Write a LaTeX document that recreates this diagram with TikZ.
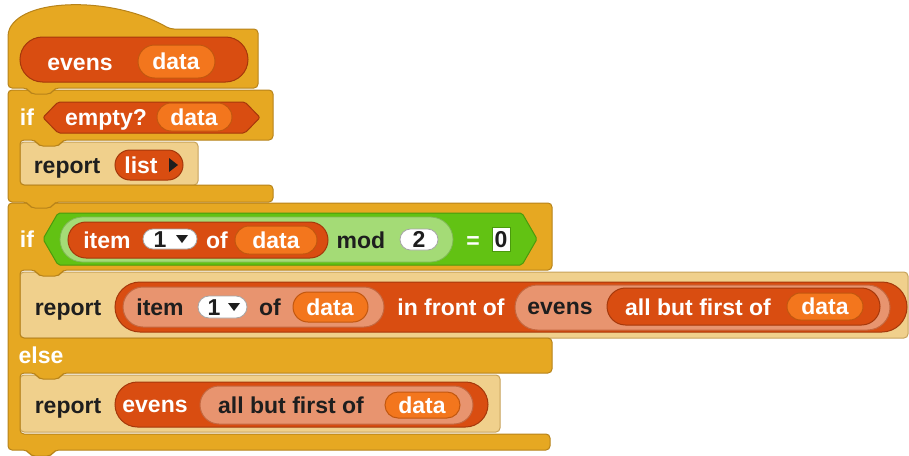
\documentclass[tikz,border=0pt]{standalone}
\usepackage{fontspec}
\setmainfont{Liberation Sans}
\definecolor{gold}{HTML}{E6A822}
\definecolor{golddark}{HTML}{B7831A}
\definecolor{tan}{HTML}{F0D08C}
\definecolor{tandark}{HTML}{C7A25A}
\definecolor{lists}{HTML}{D94D11}
\definecolor{listsdark}{HTML}{A5380B}
\definecolor{salmon}{HTML}{E8946F}
\definecolor{salmondark}{HTML}{C4673F}
\definecolor{var}{HTML}{F3761D}
\definecolor{vardark}{HTML}{C2570F}
\definecolor{ops}{HTML}{62C213}
\definecolor{opsdark}{HTML}{4A9A0C}
\definecolor{opslight}{HTML}{A4DB76}
\definecolor{textdark}{HTML}{1E1E1E}
\begin{document}
\begin{tikzpicture}[x=1pt,y=-1pt,
  lbl/.style={anchor=base,inner sep=0pt,font=\fontsize{23}{26}\selectfont\bfseries},
  wt/.style={lbl,text=white},
  dk/.style={lbl,text=textdark},
  goldblk/.style={fill=gold,draw=golddark,line width=1pt,rounded corners=4pt},
  tanblk/.style={fill=tan,draw=tandark,line width=1pt,rounded corners=4pt},
  listpill/.style={fill=lists,draw=listsdark,line width=1pt},
  salpill/.style={fill=salmon,draw=salmondark,line width=1pt},
  varpill/.style={fill=var,draw=vardark,line width=1pt},
  slotpill/.style={fill=white,draw=gray!70,line width=0.8pt},
  tri/.style={fill=textdark}]
\useasboundingbox (0,0) rectangle (909,455);

% ---------- if-else : slot 1 report ----------
\draw[tanblk] (20,272) rectangle (908,338);
\node[dk] (r2t) at (68,315) {report};
\draw[listpill,rounded corners=25pt] (115,282) rectangle (907,332);
\draw[salpill,rounded corners=20pt] (123,287) rectangle (384,327);
\node[dk] (r2item) at (160,315) {item};
\draw[slotpill,rounded corners=11pt] (198,296) rectangle (247,318);
\node[dk] (r2one) at (214,315) {1};
\fill[tri] (228,303) -- (240,303) -- (234,311) -- cycle;
\node[dk] (r2of) at (270,315) {of};
\draw[varpill,rounded corners=15pt] (293,292) rectangle (368,322);
\node[wt] (r2data) at (330,315) {data};
\node[wt] (r2ifo) at (451,315) {in front of};
\draw[salpill,rounded corners=22.5pt] (515,285) rectangle (890,330);
\node[dk] (r2evens) at (560,314) {evens};
\draw[listpill,rounded corners=18.5pt] (607,288) rectangle (880,325);
\node[wt] (r2abf) at (698,315) {all but first of};
\draw[varpill,rounded corners=13.5pt] (787,293) rectangle (863,320);
\node[wt] (r2data2) at (825,314) {data};

% ---------- if-else : slot 2 report ----------
\draw[tanblk] (20,375) rectangle (500,432);
\node[dk] (r3t) at (68,413) {report};
\draw[listpill,rounded corners=22.5pt] (115,382) rectangle (488,427);
\node[wt] (r3evens) at (155,412) {evens};
\draw[salpill,rounded corners=19pt] (200,386) rectangle (473,424);
\node[dk] (r3abf) at (291,413) {all but first of};
\draw[varpill,rounded corners=13pt] (385,392) rectangle (460,418);
\node[wt] (r3data) at (422,413) {data};

% ---------- if-else C block ----------
\draw[goldblk] (8,203) -- (552,203) -- (552,270) -- (63,270) -- (59,276) -- (39,276) -- (35,270)
  -- (20,270) -- (20,338) -- (552,338) -- (552,373) -- (63,373) -- (59,379) -- (39,379) -- (35,373)
  -- (20,373) -- (20,434) -- (550,434) -- (550,450) -- (55,450) -- (51,456) -- (31,456) -- (27,450)
  -- (8,450) -- cycle;
\node[wt] (ifelse) at (27,247) {if};
\node[wt] (else) at (41,363) {else};
\draw[fill=ops,draw=opsdark,line width=1pt,rounded corners=2pt]
  (43,239) -- (58,213) -- (522,213) -- (537,239) -- (522,265) -- (58,265) -- cycle;
\draw[fill=opslight,draw=opsdark!70,line width=0.8pt,rounded corners=22.5pt] (60,217) rectangle (453,262);
\draw[listpill,rounded corners=18pt] (68,222) rectangle (328,258);
\node[wt] (gitem) at (107,248) {item};
\draw[slotpill,rounded corners=10pt] (143,229) rectangle (197,249);
\node[dk] (gone) at (160,247) {1};
\fill[tri] (176,235) -- (188,235) -- (182,243) -- cycle;
\node[wt] (gof) at (217,248) {of};
\draw[varpill,rounded corners=14pt] (235,226) rectangle (317,254);
\node[wt] (gdata) at (276,248) {data};
\node[dk] (gmod) at (361,248) {mod};
\draw[slotpill,rounded corners=10.5pt] (400,229) rectangle (438,250);
\node[dk] (gtwo) at (419,247) {2};
\node[wt] (geq) at (473,248) {=};
\draw[fill=white,draw=opsdark,line width=0.8pt] (492,227) rectangle (510,251);
\node[dk] (gzero) at (501,247) {0};

% ---------- if block: report ----------
\draw[tanblk] (20,142) rectangle (198,185);
\node[dk] (r1t) at (67,173) {report};
\draw[listpill,rounded corners=15pt] (115,150) rectangle (183,180);
\node[wt] (r1list) at (141,173) {list};
\fill[tri] (169,158) -- (178,165) -- (169,172) -- cycle;

% ---------- if block C ----------
\draw[goldblk] (8,90) -- (273,90) -- (273,140) -- (63,140) -- (59,146) -- (39,146) -- (35,140)
  -- (20,140) -- (20,185) -- (273,185) -- (273,202) -- (55,202) -- (51,208) -- (31,208) -- (27,202)
  -- (8,202) -- cycle;
\node[wt] (if1) at (27,125) {if};
\draw[listpill,rounded corners=2pt]
  (43,117.5) -- (58,102) -- (245,102) -- (260,117.5) -- (245,133) -- (58,133) -- cycle;
\node[wt] (empty) at (106,125) {empty?};
\draw[varpill,rounded corners=14pt] (157,103) rectangle (232,131);
\node[wt] (edata) at (194,125) {data};

% ---------- hat block ----------
\draw[goldblk] (8,88) -- (8,32) .. controls (25,-3) and (115,-3) .. (170,29) -- (258,29) -- (258,88)
  -- (55,88) -- (51,94) -- (31,94) -- (27,88) -- cycle;
\draw[listpill,rounded corners=22.5pt] (20,37) rectangle (248,82);
\node[wt] (hevens) at (80,70) {evens};
\draw[varpill,rounded corners=16.5pt] (138,45) rectangle (215,78);
\node[wt] (hdata) at (176,69) {data};
\end{tikzpicture}
\end{document}
